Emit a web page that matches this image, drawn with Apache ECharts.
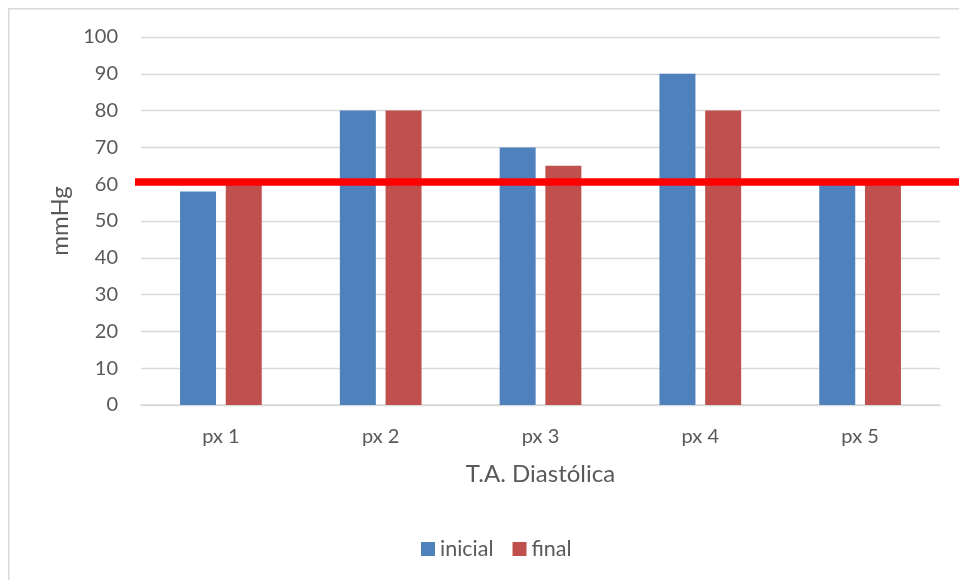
<!DOCTYPE html>
<html>
<head>
<meta charset="utf-8">
<script src="https://cdn.jsdelivr.net/npm/echarts@6/dist/echarts.min.js"></script>
<style>html,body{margin:0;padding:0;background:#fff}#c{width:959px;height:580px}</style>
</head>
<body>
<div id="c"></div>
<script>
const categories = ['px 1', 'px 2', 'px 3', 'px 4', 'px 5'];
const inicial = [58, 80, 70, 90, 60];
const finalVals = [60, 80, 65, 80, 60];
const referenceLevel = 60.6;
const yTicks = { min: 0, max: 100, interval: 10 };

const FONT = 'Lato';
const TXT = '#595959';
const chart = echarts.init(document.getElementById('c'), null, { renderer: 'canvas' });
chart.setOption({
  animation: false,
  textStyle: { fontFamily: FONT, color: TXT },
  graphic: [{
    type: 'rect', left: 8, top: 8, silent: true, z: -10,
    shape: { x: 0, y: 0, width: 1000, height: 1000 },
    style: { fill: '#fff', stroke: '#d9d9d9', lineWidth: 1.5 }
  }],
  legend: {
    left: 416, top: 533,
    itemWidth: 14, itemHeight: 14, itemGap: 19,
    icon: 'rect',
    textStyle: { fontFamily: FONT, fontSize: 21.5, color: TXT },
    data: ['inicial', 'final']
  },
  grid: [
    { left: 141, right: 19, top: 37, bottom: 175, containLabel: false },
    { left: 135, right: 0, top: 37, bottom: 175, containLabel: false }
  ],
  xAxis: [{
    type: 'category', gridIndex: 0, data: categories,
    axisLine: { lineStyle: { color: '#d9d9d9', width: 1.5 } },
    axisTick: { show: false },
    axisLabel: { fontFamily: FONT, fontSize: 20, color: TXT, margin: 22 },
    name: 'T.A. Diastólica', nameLocation: 'middle', nameGap: 57,
    nameTextStyle: { fontFamily: FONT, fontSize: 24, color: TXT }
  }, {
    type: 'value', gridIndex: 1, min: 0, max: 1, show: false
  }],
  yAxis: [{
    type: 'value', gridIndex: 0, min: yTicks.min, max: yTicks.max, interval: yTicks.interval,
    axisLine: { show: false }, axisTick: { show: false },
    splitLine: { lineStyle: { color: '#d9d9d9', width: 1.3 } },
    axisLabel: { fontFamily: FONT, fontSize: 20, color: TXT, margin: 23 },
    name: 'mmHg', nameLocation: 'middle', nameGap: 68, nameRotate: 90,
    nameTextStyle: { fontFamily: FONT, fontSize: 24, color: TXT }
  }, {
    type: 'value', gridIndex: 1, min: yTicks.min, max: yTicks.max, show: false
  }],
  series: [{
    name: 'inicial', type: 'bar', xAxisIndex: 0, yAxisIndex: 0,
    data: inicial, barWidth: 36, barGap: '27%',
    itemStyle: { color: '#4f81bd' }
  }, {
    name: 'final', type: 'bar', xAxisIndex: 0, yAxisIndex: 0,
    data: finalVals, barWidth: 36, barGap: '27%',
    itemStyle: { color: '#c0504d' }
  }, {
    name: 'ref', type: 'line', xAxisIndex: 1, yAxisIndex: 1,
    data: [[0, referenceLevel], [1, referenceLevel]],
    symbol: 'none', z: 10,
    lineStyle: { color: '#ff0000', width: 7.5 }
  }]
});
</script>
</body>
</html>
